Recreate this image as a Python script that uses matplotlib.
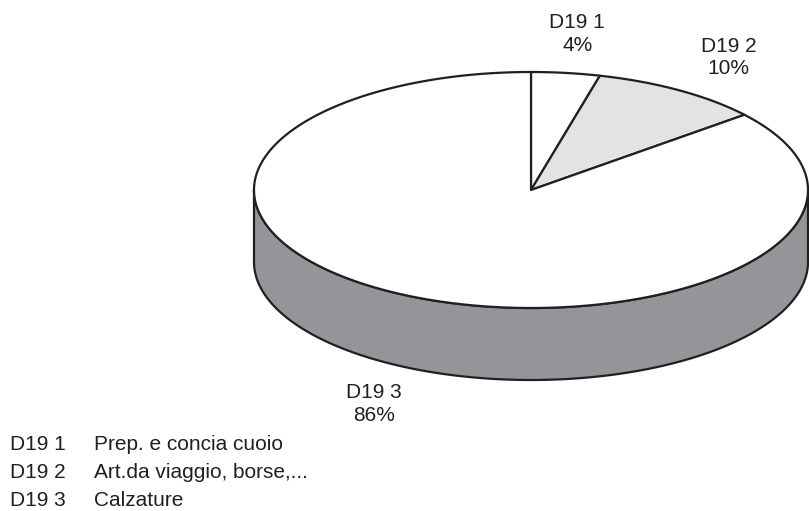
import numpy as np
import matplotlib.pyplot as plt
from matplotlib.patches import Polygon

plt.rcParams['font.family'] = ['Liberation Sans', 'DejaVu Sans']

# data
codes = ['D19 1', 'D19 2', 'D19 3']
names = ['Prep. e concia cuoio', 'Art.da viaggio, borse,...', 'Calzature']
shares = [4, 10, 86]
top_colors = ['#ffffff', '#e3e3e3', '#ffffff']
side_color = '#939598'
edge = '#231f20'

# layout (pixels)
cx, cy = 531, 190
a, b = 277, 118
depth = 72
lab_r = 1.33
fs = 15


def pt(theta_deg, dy=0):
    t = np.radians(theta_deg)
    return cx + a * np.sin(t), cy - b * np.cos(t) + dy


fig = plt.figure(figsize=(8.09, 5.11), dpi=100)
ax = fig.add_axes([0, 0, 1, 1])
ax.set_xlim(0, 809)
ax.set_ylim(511, 0)
ax.axis('off')

fracs = np.array(shares, dtype=float) / sum(shares)
starts = np.concatenate([[0], np.cumsum(fracs)[:-1]]) * 360
ends = np.cumsum(fracs) * 360

# side walls (front half: 90..270 degrees clockwise from top)
for s, e in zip(starts, ends):
    lo, hi = max(s, 90), min(e, 270)
    if hi <= lo:
        continue
    th = np.linspace(lo, hi, 200)
    x_top, y_top = pt(th)
    x_bot, y_bot = pt(th[::-1], depth)
    poly = np.column_stack([np.concatenate([x_top, x_bot]),
                            np.concatenate([y_top, y_bot])])
    ax.add_patch(Polygon(poly, closed=True, facecolor=side_color,
                         edgecolor=edge, linewidth=1.6, joinstyle='round'))

# top faces
for s, e, c in zip(starts, ends, top_colors):
    th = np.linspace(s, e, 300)
    x, y = pt(th)
    poly = np.column_stack([np.concatenate([[cx], x]),
                            np.concatenate([[cy], y])])
    ax.add_patch(Polygon(poly, closed=True, facecolor=c,
                         edgecolor=edge, linewidth=1.6, joinstyle='round'))

# data labels
for code, sh, s, e in zip(codes, shares, starts, ends):
    mid = np.radians((s + e) / 2)
    lx = cx + a * lab_r * np.sin(mid)
    ly = cy - b * lab_r * np.cos(mid)
    if np.cos(mid) < 0:
        ly += depth
    ax.text(lx, ly, f'{code}\n{sh}%', ha='center', va='center',
            fontsize=fs, color='#231f20', linespacing=1.25,
            multialignment='center')

# legend text
for i, (code, name) in enumerate(zip(codes, names)):
    y = 445 + i * 27.5
    ax.text(10, y, code, ha='left', va='center', fontsize=fs, color='#231f20')
    ax.text(94, y, name, ha='left', va='center', fontsize=fs, color='#231f20')

fig.savefig('out.png', dpi=100, facecolor='white')
